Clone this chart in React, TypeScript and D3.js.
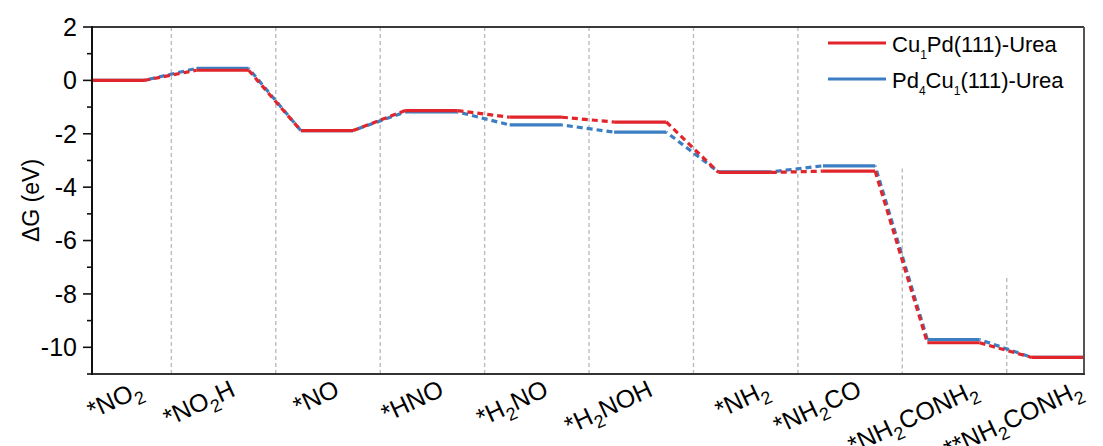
import React from "react";
import { scaleLinear, line } from "d3";

// reaction intermediates, {x} = subscript
const states = [
  "*NO{2}",
  "*NO{2}H",
  "*NO",
  "*HNO",
  "*H{2}NO",
  "*H{2}NOH",
  "*NH{2}",
  "*NH{2}CO",
  "*NH{2}CONH{2}",
  "**NH{2}CONH{2}",
];

const cuPdUrea = [0, 0.38, -1.88, -1.13, -1.38, -1.56, -3.45, -3.4, -9.83, -10.38];
const pdCuUrea = [0, 0.45, -1.88, -1.18, -1.67, -1.94, -3.43, -3.2, -9.71, -10.38];

const seriesNames = ["Cu{1}Pd(111)-Urea", "Pd{4}Cu{1}(111)-Urea"];
const seriesColors = ["#e0252b", "#3b7fc2"];

const yMajorTicks = [2, 0, -2, -4, -6, -8, -10];
const yMinorTicks = [1, -1, -3, -5, -7, -9, -11];

// top end (in eV) of each gray divider between steps
const dividerTops = [2, 2, 2, 2, 2, 2, 2, -3.3, -7.4];

const font = "Arial, 'Liberation Sans', sans-serif";

function Rich({ text, subSize, subDy }: { text: string; subSize: number; subDy: number }) {
  const parts = text.split(/(\{[^}]*\})/).filter((p) => p !== "");
  let down = false;
  return (
    <>
      {parts.map((p, i) => {
        if (p.startsWith("{")) {
          down = true;
          return (
            <tspan key={i} dy={subDy} fontSize={subSize}>
              {p.slice(1, -1)}
            </tspan>
          );
        }
        const dy = down ? -subDy : 0;
        down = false;
        return (
          <tspan key={i} dy={dy}>
            {p}
          </tspan>
        );
      })}
    </>
  );
}

export default function App() {
  const width = 1103;
  const height = 446;
  const plot = { left: 92, right: 1084, top: 27, bottom: 374 };

  const x = scaleLinear().domain([0, states.length - 0.5]).range([plot.left, plot.right]);
  const y = scaleLinear().domain([-11, 2]).range([plot.bottom, plot.top]);

  const stepLine = line<[number, number]>()
    .x((d) => x(d[0]))
    .y((d) => y(d[1]));

  const series = [pdCuUrea, cuPdUrea]; // blue under red
  const colorsDrawn = [seriesColors[1], seriesColors[0]];

  return (
    <svg
      width={width}
      height={height}
      style={{ position: "absolute", left: 0, top: 0, background: "#fff" }}
      fontFamily={font}
    >
      {/* dividers */}
      {dividerTops.map((top, i) => (
        <line
          key={`div${i}`}
          x1={x(i + 0.76)}
          x2={x(i + 0.76)}
          y1={y(top)}
          y2={plot.bottom}
          stroke="#bcbcbc"
          strokeWidth={1.4}
          strokeDasharray="4 3"
        />
      ))}

      {/* energy levels */}
      {series.map((vals, s) => (
        <g key={`s${s}`}>
          {vals.slice(0, -1).map((v, i) => (
            <path
              key={`c${i}`}
              d={stepLine([
                [i + 0.5, v],
                [i + 1, vals[i + 1]],
              ]) ?? ""}
              fill="none"
              stroke={colorsDrawn[s]}
              strokeWidth={3.2}
              strokeDasharray="6 4"
              strokeDashoffset={s === 0 ? 5 : 0}
            />
          ))}
          {vals.map((v, i) => (
            <path
              key={`l${i}`}
              d={stepLine([
                [i, v],
                [i + 0.5, v],
              ]) ?? ""}
              fill="none"
              stroke={colorsDrawn[s]}
              strokeWidth={3.2}
            />
          ))}
        </g>
      ))}

      {/* frame */}
      <line x1={plot.left} x2={plot.right} y1={plot.top} y2={plot.top} stroke="#3a3a3a" strokeWidth={2} />
      <line x1={plot.right} x2={plot.right} y1={plot.top} y2={plot.bottom} stroke="#555" strokeWidth={2} />
      <line x1={plot.left - 1} x2={plot.right + 1} y1={plot.bottom} y2={plot.bottom} stroke="#333" strokeWidth={2} />
      <line x1={plot.left} x2={plot.left} y1={plot.top - 1} y2={plot.bottom + 1} stroke="#111" strokeWidth={2} />

      {/* y axis */}
      {yMajorTicks.map((t) => (
        <g key={`yt${t}`}>
          <line x1={plot.left - 9} x2={plot.left} y1={y(t)} y2={y(t)} stroke="#111" strokeWidth={1.6} />
          <text x={plot.left - 15} y={y(t)} dy="0.35em" textAnchor="end" fontSize={25} fill="#000">
            {t}
          </text>
        </g>
      ))}
      {yMinorTicks.map((t) => (
        <line key={`ym${t}`} x1={plot.left - 5} x2={plot.left} y1={y(t)} y2={y(t)} stroke="#111" strokeWidth={1.6} />
      ))}
      <text
        transform={`translate(31,${(plot.top + plot.bottom) / 2}) rotate(-90)`}
        textAnchor="middle"
        dy="0.35em"
        fontSize={23}
        fill="#000"
      >
        ΔG (eV)
      </text>

      {/* x labels, rotated */}
      {states.map((s, i) => {
        const tail = s.endsWith("}") ? 12 : 0;
        return (
          <g key={`xl${i}`} transform={`translate(${x(i + 0.25) + 14 + tail},395)`}>
            <g transform="rotate(-25)">
              <text x={0} y={0} textAnchor="end" fontSize={25} fill="#000">
                <Rich text={s} subSize={18} subDy={7} />
              </text>
            </g>
          </g>
        );
      })}

      {/* legend */}
      {seriesNames.map((name, i) => (
        <g key={`lg${i}`} transform={`translate(828,${43 + i * 36})`}>
          <line x1={0} x2={58} y1={0} y2={0} stroke={seriesColors[i]} strokeWidth={3} />
          <text x={64} y={9} fontSize={22} fill="#000">
            <Rich text={name} subSize={12} subDy={7} />
          </text>
        </g>
      ))}
    </svg>
  );
}
